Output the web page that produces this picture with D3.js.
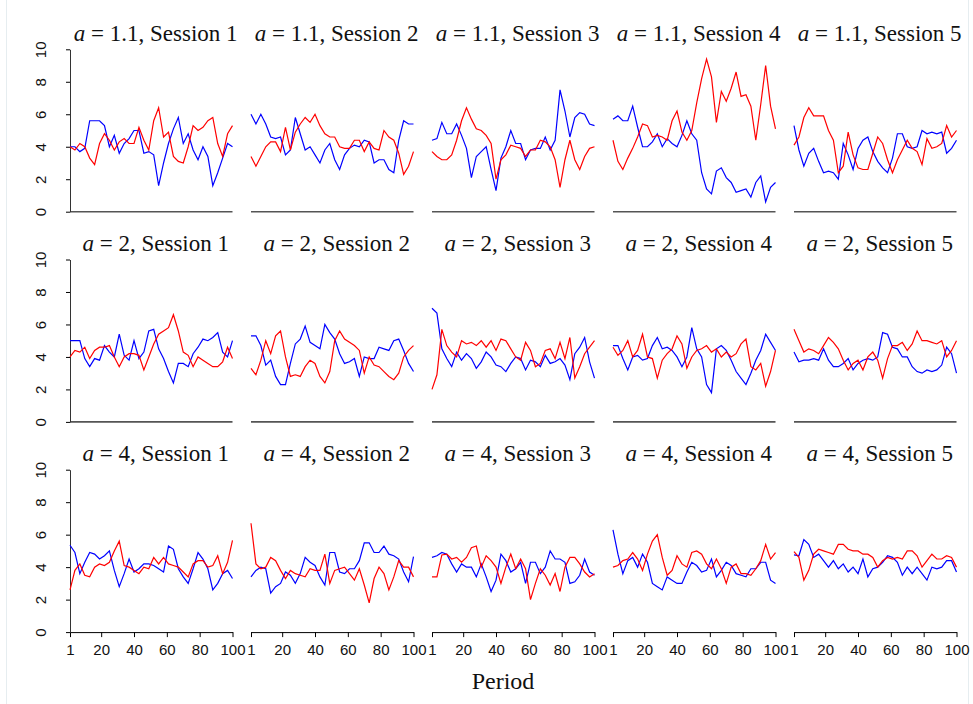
<!DOCTYPE html>
<html>
<head>
<meta charset="utf-8">
<script src="https://cdn.jsdelivr.net/npm/d3@7/dist/d3.min.js"></script>
<style>
  body { margin: 0; background: #fff; }
  .serif { font-family: "Liberation Serif", "DejaVu Serif", serif; }
  .sans { font-family: "Liberation Sans", Arial, sans-serif; }
</style>
</head>
<body>
<script>
var width = 973, height = 704

var periods = [1,4,7,10,13,16,19,22,25,28,31,34,37,40,43,46,49,52,55,58,61,64,67,70,73,76,79,82,85,88,91,94,97,100]
var aLabels = ["1.1", "2", "4"]
var sessions = [1, 2, 3, 4, 5]
var xTicks = [1, 20, 40, 60, 80, 100]
var yTicks = [0, 2, 4, 6, 8, 10]

// a = 1.1
var blue_11_1 = [4.0,4.0,3.7,3.9,5.6,5.6,5.6,5.3,4.0,4.7,3.6,4.2,4.5,5.0,5.0,3.6,3.7,3.5,1.6,3.0,4.2,5.1,5.8,4.2,4.8,3.8,3.2,4.0,3.4,1.6,2.4,3.3,4.2,4.0]
var red_11_1  = [4.0,3.8,4.2,4.0,3.3,2.9,4.2,4.8,4.4,3.8,4.3,4.5,4.2,4.2,5.2,4.4,3.8,5.6,6.4,4.6,4.9,3.4,3.1,3.0,4.0,5.3,5.0,5.2,5.6,5.8,4.2,3.4,4.8,5.3]
var blue_11_2 = [6.0,5.4,6.0,5.4,4.6,4.5,4.6,3.5,3.8,5.8,4.8,3.8,4.0,3.5,3.0,3.8,4.2,3.2,2.6,3.5,3.9,4.1,4.0,4.4,4.3,3.0,3.2,3.2,2.6,2.4,4.4,5.6,5.4,5.4]
var red_11_2  = [3.4,2.8,3.4,4.0,4.3,4.3,3.7,5.2,3.8,4.9,5.4,5.8,5.5,6.0,5.3,4.8,4.6,4.6,4.0,3.9,3.9,4.4,4.4,3.7,4.3,3.9,3.8,5.0,4.6,4.4,3.6,2.3,2.8,3.7]
var blue_11_3 = [4.4,4.5,5.5,4.8,4.8,5.4,4.7,3.9,2.1,3.4,3.7,4.0,2.6,1.3,3.3,4.0,5.0,4.2,4.2,3.2,3.8,3.9,3.9,4.6,3.8,4.4,7.5,6.2,4.6,5.8,6.1,6.0,5.4,5.3]
var red_11_3  = [3.7,3.4,3.2,3.2,3.5,4.4,5.6,6.4,5.7,5.1,5.0,4.7,4.2,2.0,3.2,3.5,4.1,4.0,3.9,3.4,3.8,3.8,4.4,4.3,4.0,3.2,1.5,3.2,4.4,3.2,2.6,3.4,3.9,4.0]
var blue_11_4 = [5.7,5.9,5.6,5.6,6.5,5.2,4.0,4.0,4.3,4.8,4.0,4.5,4.2,4.0,4.7,5.6,4.8,4.4,2.4,1.4,1.1,2.5,2.7,2.1,1.8,1.2,1.3,1.4,0.9,1.8,2.2,0.6,1.5,1.8]
var red_11_4  = [4.4,3.1,2.6,3.3,3.9,4.6,5.4,5.3,4.6,4.7,4.6,4.4,5.6,6.2,4.9,4.4,5.0,6.7,8.2,9.4,8.3,5.5,7.4,6.8,7.6,8.6,7.1,7.2,6.5,4.4,6.6,9.0,6.5,5.1]
var blue_11_5 = [5.3,3.8,2.8,3.6,3.9,3.1,2.4,2.5,2.4,2.0,4.2,3.5,2.6,3.9,4.4,4.6,3.7,3.1,2.7,2.4,3.3,4.8,4.8,4.0,3.9,4.0,5.0,4.8,4.9,4.8,4.9,3.6,3.9,4.4]
var red_11_5  = [4.1,4.6,5.8,6.4,5.9,5.9,5.9,5.0,4.4,2.4,2.8,4.9,3.5,2.7,2.6,2.6,3.6,4.6,4.2,3.2,2.4,3.2,3.8,4.4,3.9,3.7,2.9,4.5,3.9,4.0,4.2,5.3,4.6,5.0]

// a = 2
var blue_2_1 = [5.0,5.0,5.0,3.9,3.4,3.9,3.8,4.7,4.3,4.0,5.4,4.1,3.8,5.0,3.9,4.3,5.6,5.7,4.5,3.9,3.1,2.4,3.6,3.6,3.4,4.2,4.6,5.1,5.0,5.2,5.5,4.3,4.0,5.0]
var red_2_1  = [4.0,4.4,4.3,4.6,3.9,4.4,4.6,4.6,4.7,4.0,3.4,4.0,4.2,4.2,4.1,3.2,4.0,4.8,5.4,5.6,5.8,6.6,5.6,4.3,4.1,3.4,4.0,3.8,3.6,3.4,3.4,3.7,4.6,3.9]
var blue_2_2 = [5.3,5.3,4.7,3.5,3.8,2.8,2.3,2.3,3.6,4.8,5.1,5.9,4.9,4.7,4.5,6.0,5.5,5.1,4.2,3.6,3.7,3.9,2.8,4.0,3.9,3.9,4.6,4.5,4.4,5.0,5.1,4.4,3.6,3.1]
var red_2_2  = [3.3,2.9,3.8,5.0,4.2,5.3,5.6,4.0,2.8,2.9,2.8,3.4,3.8,3.6,2.8,2.4,3.1,5.0,5.6,5.1,4.9,4.7,4.4,3.0,4.0,3.5,3.4,3.1,2.8,2.6,3.0,4.0,4.4,4.7]
var blue_2_3 = [7.0,6.7,4.5,3.9,3.4,4.3,3.8,4.2,3.9,3.3,3.7,4.3,4.0,3.5,3.4,3.1,3.6,4.0,3.9,3.2,3.8,3.7,3.4,4.1,3.6,3.7,3.9,3.5,2.6,4.2,4.6,5.2,3.7,2.7]
var red_2_3  = [2.0,2.9,5.7,4.7,4.3,4.0,5.0,4.8,4.9,4.7,5.0,4.6,5.0,4.4,5.1,5.0,4.5,4.0,3.8,4.9,4.4,3.4,3.6,4.4,4.5,3.9,4.9,3.9,5.2,2.7,3.4,4.2,4.6,5.0]
var blue_2_4 = [4.7,4.7,3.9,3.2,4.0,4.1,3.8,3.9,4.7,5.2,4.5,4.6,4.4,4.0,3.4,4.0,5.8,4.5,4.0,2.3,1.8,4.5,4.7,4.4,3.8,3.1,2.7,2.3,3.0,3.8,4.4,5.4,4.9,4.4]
var red_2_4  = [4.6,4.1,4.4,5.0,4.0,4.4,5.4,4.0,3.9,2.7,3.8,4.2,4.5,5.3,4.8,3.3,4.0,4.4,4.5,4.7,4.3,4.5,4.0,4.3,4.0,4.2,4.8,5.1,3.4,3.2,3.6,2.2,3.1,4.4]
var blue_2_5 = [4.3,3.7,3.8,3.8,3.9,3.8,4.5,3.8,3.4,3.4,3.6,3.9,3.2,3.6,3.8,3.9,3.8,4.0,5.5,5.4,4.6,4.5,4.0,4.0,3.4,3.1,3.0,3.2,3.1,3.2,3.5,4.6,4.2,3.0]
var red_2_5  = [5.7,5.0,4.3,4.5,4.4,4.2,4.7,5.2,4.9,4.5,3.8,3.2,3.6,3.8,3.2,4.0,4.3,3.8,2.7,3.9,4.7,4.7,4.9,4.4,4.8,5.6,5.0,5.0,4.9,4.8,5.0,4.0,4.4,5.0]

// a = 4
var blue_4_1 = [5.35,4.9,3.6,4.3,4.9,4.8,4.5,4.7,5.0,3.8,2.8,3.6,4.5,3.7,3.9,4.2,4.2,4.1,3.9,3.7,5.3,5.1,3.9,3.4,3.0,3.9,4.9,4.5,3.9,2.6,3.0,3.6,3.8,3.3]
var red_4_1  = [2.6,3.8,4.2,3.5,3.4,4.0,4.2,4.1,4.3,5.0,5.6,4.1,4.0,3.8,3.6,4.0,3.9,4.6,4.2,4.6,4.2,4.1,4.0,3.7,3.4,4.2,4.4,4.4,4.0,4.1,4.7,3.6,4.3,5.65]
var blue_4_2 = [3.4,3.8,4.0,3.9,2.4,2.8,3.0,3.7,3.5,3.0,3.6,4.6,4.3,4.1,3.4,2.9,4.9,4.9,3.7,3.6,3.9,3.9,4.4,5.5,5.5,4.9,4.9,5.3,4.8,4.7,4.5,3.7,3.1,4.65]
var red_4_2  = [6.7,4.2,3.9,4.0,4.6,4.4,3.8,3.3,3.8,3.6,3.5,3.4,3.9,3.8,3.8,4.8,3.0,3.8,3.9,4.0,3.6,3.2,3.9,2.9,1.8,3.3,4.0,3.6,2.6,3.4,4.4,4.0,4.0,3.4]
var blue_4_3 = [4.6,4.7,4.9,4.8,4.2,3.7,4.2,4.0,4.0,3.4,4.2,3.4,2.5,3.2,4.8,4.4,3.7,3.9,4.3,3.0,4.3,4.3,3.6,4.0,5.0,4.5,4.5,4.3,3.0,3.1,3.5,4.5,3.7,3.5]
var red_4_3  = [3.4,3.4,4.75,4.8,4.5,4.6,4.3,4.6,5.2,5.3,4.0,4.7,4.4,4.0,3.0,4.0,4.8,3.9,4.5,3.9,2.0,3.0,3.9,3.5,2.9,3.6,2.5,4.0,4.6,4.6,4.2,3.7,3.4,3.6]
var blue_4_4 = [6.3,4.8,3.6,4.4,4.6,4.0,4.8,4.3,3.0,2.8,2.6,3.4,3.2,3.0,3.0,3.7,4.3,4.1,3.7,3.8,4.5,3.4,3.8,4.3,4.1,3.6,3.5,3.4,3.9,3.9,4.3,4.3,3.2,3.0]
var red_4_4  = [4.0,4.1,4.4,4.5,4.9,4.5,3.8,4.8,5.6,6.0,4.6,3.5,3.8,4.7,4.2,4.0,4.9,5.0,4.8,4.2,3.9,4.5,3.9,3.0,4.0,4.2,3.6,3.6,3.5,3.9,4.4,5.4,4.5,4.9]
var blue_4_5 = [4.75,4.7,5.7,5.4,4.6,4.8,4.4,4.0,4.4,3.9,4.2,3.7,4.0,3.6,4.5,3.4,3.9,4.0,4.3,4.7,4.6,4.3,3.5,4.0,3.6,4.0,3.6,3.2,4.0,3.9,4.0,4.4,4.4,3.7]
var red_4_5  = [4.95,4.6,3.2,3.8,4.8,5.1,5.0,4.9,4.8,5.4,5.4,5.1,5.0,5.0,4.8,4.8,4.6,4.0,4.4,4.6,4.5,4.6,4.5,5.0,5.0,4.7,4.0,4.4,4.8,4.5,4.5,4.7,4.6,4.0]

var blueSeries = [
  [blue_11_1, blue_11_2, blue_11_3, blue_11_4, blue_11_5],
  [blue_2_1, blue_2_2, blue_2_3, blue_2_4, blue_2_5],
  [blue_4_1, blue_4_2, blue_4_3, blue_4_4, blue_4_5]
]
var redSeries = [
  [red_11_1, red_11_2, red_11_3, red_11_4, red_11_5],
  [red_2_1, red_2_2, red_2_3, red_2_4, red_2_5],
  [red_4_1, red_4_2, red_4_3, red_4_4, red_4_5]
]

// panel geometry
var left = 70, colStep = 181, panelW = 162.5
var top0 = 49.3, rowStep = 210.2, panelH = 162.4

var svg = d3.select("body").append("svg")
  .attr("width", width)
  .attr("height", height)

svg.append("rect").attr("width", width).attr("height", height).attr("fill", "#fff")

// faint frame lines of the original figure
svg.append("line").attr("x1", 6.5).attr("x2", 6.5).attr("y1", 0).attr("y2", height)
  .attr("stroke", "#e6edf0").attr("stroke-width", 1)
svg.append("line").attr("x1", 968.5).attr("x2", 968.5).attr("y1", 0).attr("y2", height)
  .attr("stroke", "#e6edf0").attr("stroke-width", 1)

var x = d3.scaleLinear().domain([1, 100]).range([0, panelW])
var y = d3.scaleLinear().domain([0, 10]).range([panelH, 0])

var line = d3.line()
  .x(function(d, i) { return x(periods[i]) })
  .y(function(d) { return y(d) })

aLabels.forEach(function(a, row) {
  sessions.forEach(function(s, col) {
    var g = svg.append("g")
      .attr("transform", "translate(" + (left + col * colStep) + "," + (top0 + row * rowStep) + ")")

    // title
    var t = g.append("text")
      .attr("class", "serif")
      .attr("x", panelW / 2 + 4.5)
      .attr("y", -8.6)
      .attr("text-anchor", "middle")
      .attr("font-size", 23)
      .attr("fill", "#111")
    t.append("tspan").attr("font-style", "italic").text("a")
    t.append("tspan").text(" = " + a + ", Session " + s)

    // x axis
    if (row == 2) {
      var xa = g.append("g")
        .attr("class", "sans")
        .attr("transform", "translate(0," + panelH + ")")
        .call(d3.axisBottom(x).tickValues(xTicks).tickSize(5).tickSizeOuter(0).tickPadding(7))
      xa.select(".domain").attr("stroke", "#000")
      xa.selectAll("text").attr("font-size", 15).attr("fill", "#111")
    } else {
      g.append("line")
        .attr("x1", x(1)).attr("x2", x(100))
        .attr("y1", y(0)).attr("y2", y(0))
        .attr("stroke", "#555").attr("stroke-width", 1.6)
    }

    // y axis
    if (col == 0) {
      var ya = g.append("g")
        .attr("class", "sans")
        .call(d3.axisLeft(y).tickValues(yTicks).tickSize(4).tickSizeOuter(0))
      ya.select(".domain").attr("stroke", "#333")
      ya.selectAll(".tick text")
        .attr("x", null).attr("dy", null)
        .attr("font-size", 15).attr("fill", "#111")
        .attr("text-anchor", "middle")
        .attr("transform", "translate(-24,0) rotate(-90)")
    }

    g.append("path")
      .datum(blueSeries[row][col])
      .attr("fill", "none")
      .attr("stroke", "#0000ff")
      .attr("stroke-width", 1.2)
      .attr("d", line)

    g.append("path")
      .datum(redSeries[row][col])
      .attr("fill", "none")
      .attr("stroke", "#ff0000")
      .attr("stroke-width", 1.2)
      .attr("d", line)
  })
})

svg.append("text")
  .attr("class", "serif")
  .attr("x", 503)
  .attr("y", 689)
  .attr("text-anchor", "middle")
  .attr("font-size", 24)
  .attr("fill", "#111")
  .text("Period")
</script>
</body>
</html>
